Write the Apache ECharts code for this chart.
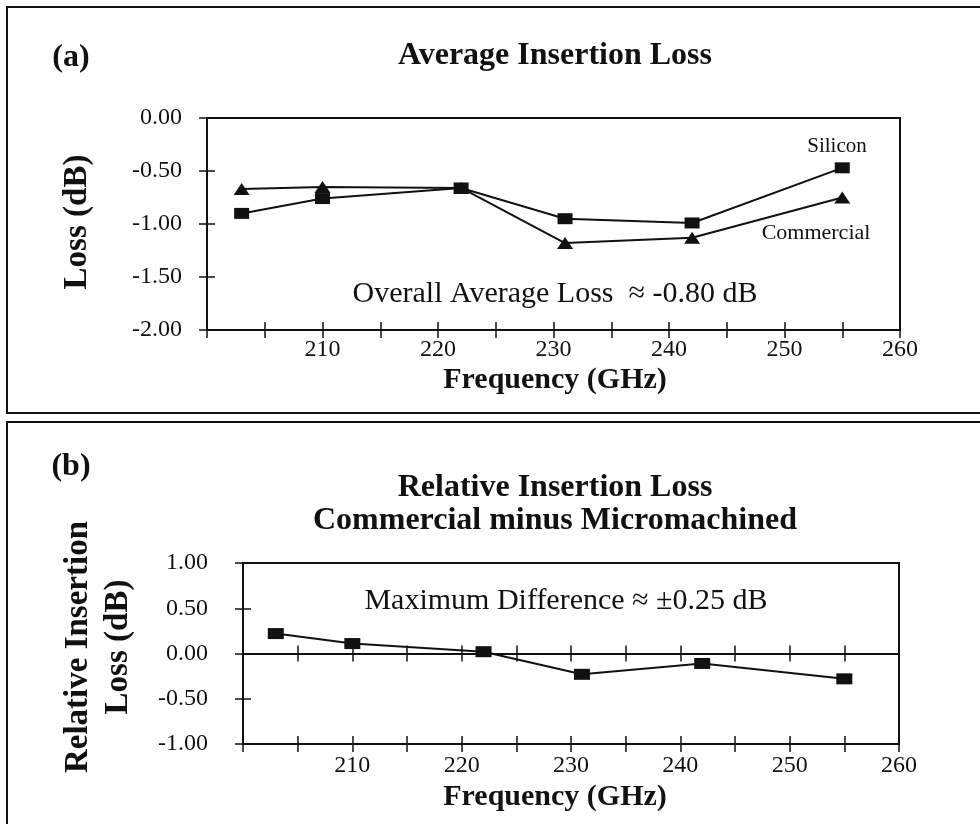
<!DOCTYPE html>
<html>
<head>
<meta charset="utf-8">
<script src="https://cdn.jsdelivr.net/npm/echarts@6/dist/echarts.min.js"></script>
<style>
  html, body { margin: 0; padding: 0; background: #fff; }
  #chart { width: 980px; height: 824px; }
</style>
</head>
<body>
<div id="chart"></div>
<script>
// data
const freqs = [203, 210, 222, 231, 242, 255];
const silicon = [-0.90, -0.76, -0.66, -0.95, -0.99, -0.47];
const commercial = [-0.67, -0.65, -0.66, -1.18, -1.13, -0.75];
const relative = [0.22, 0.11, 0.02, -0.23, -0.11, -0.28];
const freqLabels = [210, 220, 230, 240, 250, 260];

const SERIF = "'Liberation Serif', 'DejaVu Serif', serif";
const INK = "#111";

function pairs(ys) {
  return freqs.map((f, i) => [f, ys[i]]);
}

// x axis pair: outer ticks + inner ticks so they cross the line
function xAxes(grid, onZero, withLabels, margin) {
  const base = {
    gridIndex: grid,
    type: "value",
    min: 200,
    max: 260,
    interval: 5,
    position: "bottom",
    splitLine: { show: false },
    axisLine: { onZero: onZero, lineStyle: { color: INK, width: 2 } }
  };
  return [
    Object.assign({}, base, {
      axisTick: { inside: false, length: 8, lineStyle: { color: INK, width: 1.5 } },
      axisLabel: {
        show: withLabels,
        margin: margin,
        color: INK,
        fontFamily: SERIF,
        fontSize: 24,
        formatter: (v) => (freqLabels.indexOf(v) >= 0 ? String(v) : "")
      }
    }),
    Object.assign({}, base, {
      axisTick: { inside: true, length: 8, lineStyle: { color: INK, width: 1.5 } },
      axisLabel: { show: false }
    })
  ];
}

function yAxes(grid, min, max, margin) {
  const base = {
    gridIndex: grid,
    type: "value",
    min: min,
    max: max,
    interval: 0.5,
    position: "left",
    splitLine: { show: false },
    axisLine: { onZero: false, lineStyle: { color: INK, width: 2 } }
  };
  return [
    Object.assign({}, base, {
      axisTick: { inside: false, length: 8, lineStyle: { color: INK, width: 1.5 } },
      axisLabel: {
        margin: margin,
        color: INK,
        fontFamily: SERIF,
        fontSize: 24,
        formatter: (v) => v.toFixed(2)
      }
    }),
    Object.assign({}, base, {
      axisTick: { inside: true, length: 8, lineStyle: { color: INK, width: 1.5 } },
      axisLabel: { show: false }
    })
  ];
}

function text(str, x, y, size, bold, extra) {
  return Object.assign({
    type: "text",
    x: x,
    y: y,
    style: {
      text: str,
      fill: INK,
      font: (bold ? "bold " : "") + size + "px " + SERIF,
      textAlign: "center",
      textVerticalAlign: "middle"
    }
  }, extra || {});
}

function lineSeries(name, xi, yi, ys, symbol, size) {
  return {
    name: name,
    type: "line",
    xAxisIndex: xi,
    yAxisIndex: yi,
    data: pairs(ys),
    symbol: symbol,
    symbolSize: size,
    showSymbol: true,
    lineStyle: { color: INK, width: 2 },
    itemStyle: { color: INK },
    emphasis: { disabled: true }
  };
}

const chart = echarts.init(document.getElementById("chart"));

chart.setOption({
  animation: false,
  backgroundColor: "#fff",
  grid: [
    { left: 207, top: 118, width: 693, height: 212, show: true, borderColor: INK, borderWidth: 2, backgroundColor: "transparent" },
    { left: 243, top: 563, width: 656, height: 181, show: true, borderColor: INK, borderWidth: 2, backgroundColor: "transparent" }
  ],
  xAxis: [].concat(
    xAxes(0, false, true, 8),
    xAxes(1, false, true, 10),
    xAxes(1, true, false, 8)
  ),
  yAxis: [].concat(
    yAxes(0, -2, 0, 25),
    yAxes(1, -1, 1, 35)
  ),
  series: [
    lineSeries("Silicon", 0, 0, silicon, "rect", [15, 11]),
    lineSeries("Commercial", 0, 0, commercial, "triangle", [16, 12]),
    lineSeries("Relative", 2, 2, relative, "rect", [16, 11])
  ],
  graphic: [
    // panel frames
    { type: "rect", shape: { x: 7, y: 7, width: 990, height: 406 }, style: { fill: "none", stroke: INK, lineWidth: 2 } },
    { type: "rect", shape: { x: 7, y: 422, width: 990, height: 420 }, style: { fill: "none", stroke: INK, lineWidth: 2 } },

    // panel (a)
    text("(a)", 71, 58, 32, true),
    text("Average Insertion Loss", 555, 56, 32, true),
    text("Loss (dB)", 77, 222, 33, true, { rotation: Math.PI / 2 }),
    text("Frequency (GHz)", 555, 380, 30, true),
    text("Silicon", 837, 146, 21, false),
    text("Commercial", 816, 233, 22, false),
    text("Overall Average Loss  \u2248 -0.80 dB", 555, 294, 30, false),

    // panel (b)
    text("(b)", 71, 467, 32, true),
    text("Relative Insertion Loss", 555, 488, 32, true),
    text("Commercial minus Micromachined", 555, 521, 32, true),
    text("Relative Insertion", 78, 647, 33, true, { rotation: Math.PI / 2 }),
    text("Loss (dB)", 118, 647, 33, true, { rotation: Math.PI / 2 }),
    text("Frequency (GHz)", 555, 797, 30, true),
    text("Maximum Difference \u2248 \u00b10.25 dB", 566, 601, 30, false)
  ]
});
</script>
</body>
</html>
